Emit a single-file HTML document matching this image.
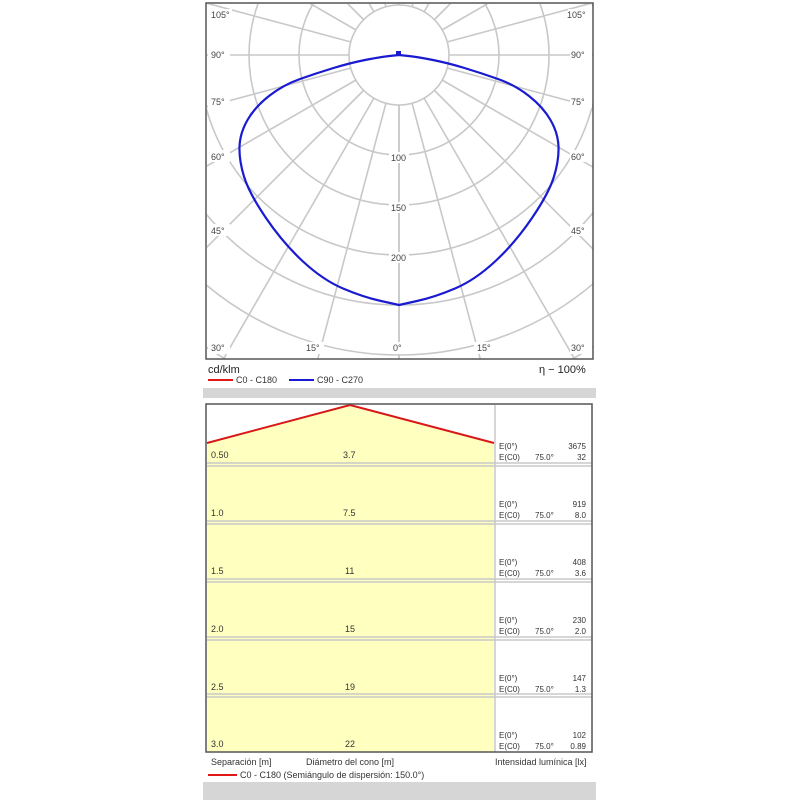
<!DOCTYPE html>
<html><head><style>
html,body{margin:0;padding:0;background:#fff;width:800px;height:800px;overflow:hidden}
text{font-family:"Liberation Sans",sans-serif}
</style></head><body>
<svg width="800" height="800" viewBox="0 0 800 800" xmlns="http://www.w3.org/2000/svg">
<defs><clipPath id="c"><rect x="207" y="4" width="386" height="355"/></clipPath></defs>
<g clip-path="url(#c)" stroke="#c8c8c8" stroke-width="1.6" fill="none">
<circle cx="399" cy="55" r="50"/><circle cx="399" cy="55" r="100"/><circle cx="399" cy="55" r="150"/>
<circle cx="399" cy="55" r="200"/><circle cx="399" cy="55" r="250"/><circle cx="399" cy="55" r="300"/>
<circle cx="399" cy="55" r="350"/><circle cx="399" cy="55" r="400"/>
<g id="rl">
<line x1="399" y1="105" x2="399" y2="600"/>
<line x1="386" y1="103" x2="270" y2="538"/>
<line x1="374" y1="98" x2="149" y2="488"/>
<line x1="364" y1="90" x2="45" y2="409"/>
<line x1="356" y1="80" x2="-34" y2="305"/>
<line x1="351" y1="68" x2="-84" y2="185"/>
<line x1="349" y1="55" x2="-101" y2="55"/>
<line x1="351" y1="42" x2="-84" y2="-75"/>
<line x1="356" y1="30" x2="-34" y2="-195"/>
<line x1="364" y1="20" x2="45" y2="-299"/>
<line x1="374" y1="12" x2="149" y2="-378"/>
<line x1="386" y1="7" x2="270" y2="-428"/>
<line x1="399" y1="5" x2="399" y2="-400"/>
</g>
<use href="#rl" transform="translate(798,0) scale(-1,1)"/>
</g>
<g font-size="9" fill="#444">
<g fill="#fff"><rect x="208" y="9" width="24" height="12"/><rect x="568" y="9" width="24" height="12"/>
<rect x="208" y="49" width="22" height="12"/><rect x="570" y="49" width="22" height="12"/>
<rect x="208" y="96" width="22" height="12"/><rect x="570" y="96" width="22" height="12"/>
<rect x="208" y="150" width="22" height="12"/><rect x="570" y="150" width="22" height="12"/>
<rect x="208" y="224" width="22" height="12"/><rect x="570" y="224" width="22" height="12"/>
<rect x="208" y="342" width="22" height="12"/><rect x="570" y="342" width="22" height="12"/>
<rect x="304" y="342" width="20" height="12"/><rect x="474" y="342" width="20" height="12"/><rect x="391" y="342" width="16" height="12"/>
<rect x="389" y="152" width="20" height="11"/><rect x="389" y="202" width="20" height="11"/><rect x="389" y="252" width="20" height="11"/></g>
<text x="211" y="18">105°</text><text x="567" y="18">105°</text>
<text x="211" y="58">90°</text><text x="571" y="58">90°</text>
<text x="211" y="105">75°</text><text x="571" y="105">75°</text>
<text x="211" y="160">60°</text><text x="571" y="160">60°</text>
<text x="211" y="234">45°</text><text x="571" y="234">45°</text>
<text x="211" y="351">30°</text><text x="571" y="351">30°</text>
<text x="306" y="351">15°</text><text x="477" y="351">15°</text><text x="393" y="351">0°</text>
<text x="391" y="161">100</text><text x="391" y="211">150</text><text x="391" y="261">200</text>
</g>
<path d="M399,305 L381,301 Q363,297 343,288.5 Q323,280 303,261.5 Q283,243 266,218 Q249,193 244,176.5 Q239,160 239.5,146.5 Q240,133 247.5,120 Q255,107 269,96 Q283,85 300,79 Q317,73 333.5,68 Q350,63 365,60 Q380,57 389.5,56 L399,55 L408.5,56 Q418,57 433,60 Q448,63 464.5,68 Q481,73 498,79 Q515,85 529,96 Q543,107 550.5,120 Q558,133 558.5,146.5 Q559,160 554,176.5 Q549,193 532,218 Q515,243 495,261.5 Q475,280 455,288.5 Q435,297 417,301 Z" fill="none" stroke="#1a1ad0" stroke-width="2.2" stroke-linejoin="round"/>
<rect x="396" y="51" width="5" height="5" fill="#1a1ad0"/>
<rect x="206" y="3" width="387" height="356" fill="none" stroke="#555" stroke-width="1.5"/>
<text x="208" y="373" font-size="11" fill="#222">cd/klm</text>
<text x="539" y="373" font-size="11" fill="#222">η − 100%</text>
<line x1="208" y1="380" x2="233" y2="380" stroke="#e01818" stroke-width="2"/>
<text x="236" y="383" font-size="9" fill="#333">C0 - C180</text>
<line x1="289" y1="380" x2="314" y2="380" stroke="#1a1ad0" stroke-width="2"/>
<text x="317" y="383" font-size="9" fill="#333">C90 - C270</text>
<rect x="203" y="388" width="393" height="10" fill="#d6d6d6"/>
<rect x="207" y="405" width="287" height="347" fill="#ffffc0"/>
<path d="M207,405 L350,405 L207,443 Z M350,405 L494,405 L494,443 Z" fill="#fff"/>
<polyline points="207,443 350,405 494,443" fill="none" stroke="#d81818" stroke-width="2"/>
<g stroke="#c8c8c8" stroke-width="1.5">
<line x1="207" y1="463" x2="592" y2="463"/><line x1="207" y1="466" x2="592" y2="466"/>
<line x1="207" y1="521" x2="592" y2="521"/><line x1="207" y1="524" x2="592" y2="524"/>
<line x1="207" y1="579" x2="592" y2="579"/><line x1="207" y1="582" x2="592" y2="582"/>
<line x1="207" y1="637" x2="592" y2="637"/><line x1="207" y1="640" x2="592" y2="640"/>
<line x1="207" y1="694" x2="592" y2="694"/><line x1="207" y1="697" x2="592" y2="697"/>
<line x1="495" y1="405" x2="495" y2="752"/>
</g>
<rect x="206" y="404" width="386" height="348" fill="none" stroke="#555" stroke-width="1.5"/>
<g font-size="9" fill="#333">
<text x="211" y="458">0.50</text><text x="343" y="458">3.7</text>
<text x="211" y="516">1.0</text><text x="343" y="516">7.5</text>
<text x="211" y="574">1.5</text><text x="345" y="574">11</text>
<text x="211" y="632">2.0</text><text x="345" y="632">15</text>
<text x="211" y="690">2.5</text><text x="345" y="690">19</text>
<text x="211" y="747">3.0</text><text x="345" y="747">22</text>
</g>
<g font-size="8" fill="#333">
<g id="r1"><text x="499" y="449">E(0°)</text><text x="499" y="460">E(C0)</text><text x="535" y="460">75.0°</text></g>
<use href="#r1" y="58"/><use href="#r1" y="116"/><use href="#r1" y="174"/><use href="#r1" y="232"/><use href="#r1" y="289"/>
<g text-anchor="end">
<text x="586" y="449">3675</text><text x="586" y="460">32</text>
<text x="586" y="507">919</text><text x="586" y="518">8.0</text>
<text x="586" y="565">408</text><text x="586" y="576">3.6</text>
<text x="586" y="623">230</text><text x="586" y="634">2.0</text>
<text x="586" y="681">147</text><text x="586" y="692">1.3</text>
<text x="586" y="738">102</text><text x="586" y="749">0.89</text>
</g></g>
<g font-size="9" fill="#333">
<text x="211" y="765">Separación [m]</text>
<text x="306" y="765">Diámetro del cono [m]</text>
<text x="495" y="765">Intensidad lumínica [lx]</text>
<line x1="208" y1="775" x2="237" y2="775" stroke="#e01818" stroke-width="2"/>
<text x="240" y="778">C0 - C180 (Semiángulo de dispersión: 150.0°)</text>
</g>
<rect x="203" y="782" width="393" height="18" fill="#d6d6d6"/>
</svg>
</body></html>
